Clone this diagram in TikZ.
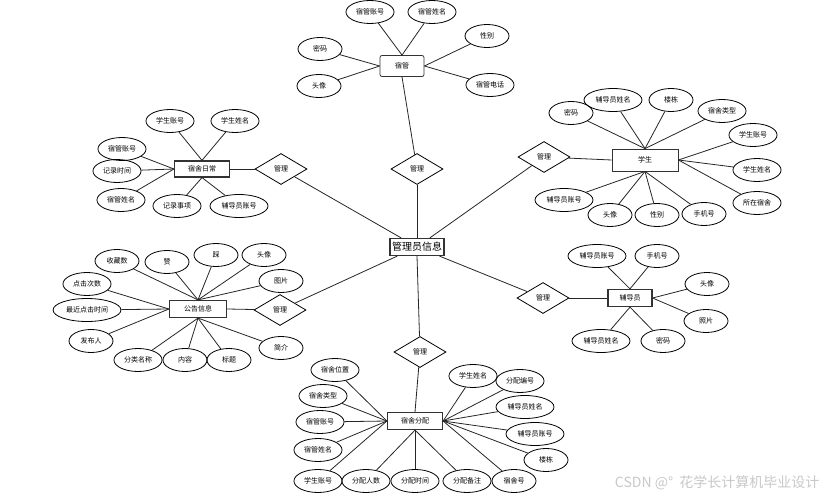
\documentclass[tikz,border=0pt]{standalone}
\usepackage{fontspec}
\setmainfont{Noto Sans CJK SC}
\usetikzlibrary{shapes.geometric}
\definecolor{markgray}{RGB}{200,200,200}

\begin{document}
\begin{tikzpicture}[
    x=1pt, y=-1pt,
    attr/.style={ellipse, draw, line width=0.8pt, inner xsep=3pt, inner ysep=1pt, minimum width=44pt, minimum height=23pt, font=\fontsize{7}{8}\selectfont},
    entity/.style={rectangle, draw=black!80, line width=1.2pt, minimum width=#1, minimum height=17pt, inner sep=1pt, font=\fontsize{7}{8}\selectfont},
    entity/.default=44pt,
    rel/.style={diamond, draw, line width=0.8pt, aspect=1.65, minimum width=52pt, minimum height=31pt, inner sep=0pt, font=\fontsize{7}{8}\selectfont},
    link/.style={line width=0.8pt, draw=black!85},
]
\useasboundingbox (0,0) rectangle (835,500);

% Center
\node[entity=54pt, font=\fontsize{10}{12}\selectfont] (admin) at (417,247) {管理员信息};

% Relationships
\node[rel] (rel_sg) at (417,169) {管理};
\node[rel] (rel_xs) at (544,157) {管理};
\node[rel] (rel_rc) at (281,169) {管理};
\node[rel] (rel_gg) at (280,310) {管理};
\node[rel] (rel_fd) at (543,298) {管理};
\node[rel] (rel_fp) at (420,352) {管理};

% Entities
\node[entity, line width=0.8pt, minimum height=21pt, rounded corners=2pt] (sg) at (402,66) {宿管};
\node[entity=66pt, line width=0.8pt, minimum height=22pt] (xs) at (645,160) {学生};
\node[entity=55pt, minimum height=16pt] (rc) at (202,169) {宿舍日常};
\node[entity=57pt] (gg) at (198,309) {公告信息};
\node[entity] (fd) at (630,298) {辅导员};
\node[entity=55pt] (fp) at (415,421) {宿舍分配};

% Attributes of sg
\node[attr] (sg_zh) at (370,12) {宿管账号};
\node[attr] (sg_xm) at (432,12) {宿管姓名};
\node[attr] (sg_xb) at (487,36) {性别};
\node[attr] (sg_mm) at (320,49) {密码};
\node[attr] (sg_tx) at (319,86) {头像};
\node[attr] (sg_dh) at (490,85) {宿管电话};

% Attributes of xs
\node[attr] (xs_mm) at (571,113) {密码};
\node[attr] (xs_fdxm) at (613,100) {辅导员姓名};
\node[attr] (xs_ld) at (671,100) {楼栋};
\node[attr] (xs_sslx) at (722,111) {宿舍类型};
\node[attr] (xs_zh) at (753,135) {学生账号};
\node[attr] (xs_xm) at (757,170) {学生姓名};
\node[attr] (xs_ss) at (757,203) {所在宿舍};
\node[attr] (xs_fdzh) at (564,200) {辅导员账号};
\node[attr] (xs_tx) at (610,215) {头像};
\node[attr] (xs_xb) at (657,215) {性别};
\node[attr] (xs_sj) at (704,214) {手机号};

% Attributes of rc
\node[attr] (rc_xszh) at (170,121) {学生账号};
\node[attr] (rc_xsxm) at (235,121) {学生姓名};
\node[attr] (rc_sgzh) at (122,149) {宿管账号};
\node[attr] (rc_sj) at (117,171) {记录时间};
\node[attr] (rc_sgxm) at (121,200) {宿管姓名};
\node[attr] (rc_sx) at (177,206) {记录事项};
\node[attr] (rc_fdzh) at (239,206) {辅导员账号};

% Attributes of gg
\node[attr] (gg_sc) at (117,261) {收藏数};
\node[attr] (gg_z) at (167,262) {赞};
\node[attr] (gg_c) at (216,255) {踩};
\node[attr] (gg_tx) at (264,255) {头像};
\node[attr] (gg_tp) at (281,281) {图片};
\node[attr] (gg_cs) at (87,284) {点击次数};
\node[attr] (gg_zj) at (87,310) {最近点击时间};
\node[attr] (gg_fb) at (91,341) {发布人};
\node[attr] (gg_fl) at (138,360) {分类名称};
\node[attr] (gg_nr) at (185,360) {内容};
\node[attr] (gg_bt) at (229,360) {标题};
\node[attr] (gg_jj) at (281,348) {简介};

% Attributes of fd
\node[attr] (fd_zh) at (597,256) {辅导员账号};
\node[attr] (fd_sj) at (657,256) {手机号};
\node[attr] (fd_tx) at (707,284) {头像};
\node[attr] (fd_zp) at (706,321) {照片};
\node[attr] (fd_xm) at (601,341) {辅导员姓名};
\node[attr] (fd_mm) at (663,341) {密码};

% Attributes of fp
\node[attr] (fp_wz) at (335,370) {宿舍位置};
\node[attr] (fp_lx) at (323,396) {宿舍类型};
\node[attr] (fp_sgzh) at (320,422) {宿管账号};
\node[attr] (fp_sgxm) at (318,450) {宿管姓名};
\node[attr] (fp_xszh) at (318,481) {学生账号};
\node[attr] (fp_rs) at (366,481) {分配人数};
\node[attr] (fp_sj) at (415,481) {分配时间};
\node[attr] (fp_bz) at (467,481) {分配备注};
\node[attr] (fp_ssh) at (514,481) {宿舍号};
\node[attr] (fp_xsxm) at (473,376) {学生姓名};
\node[attr] (fp_bh) at (520,381) {分配编号};
\node[attr] (fp_fdxm) at (525,407) {辅导员姓名};
\node[attr] (fp_fdzh) at (535,434) {辅导员账号};
\node[attr] (fp_ld) at (546,460) {楼栋};

% Watermark
\node[text=markgray, font=\fontsize{14}{16}\selectfont, anchor=east] (mark) at (823,483) {CSDN @°\ \ 花学长计算机毕业设计};

% Center links
\draw[link] (admin.north) -- (rel_sg);
\draw[link] (admin) -- (rel_xs);
\draw[link] (admin) -- (rel_rc);
\draw[link] (admin) -- (rel_gg);
\draw[link] (admin) -- (rel_fd);
\draw[link] (admin.south) -- (rel_fp);

% Relationship links
\draw[link] (rel_sg) -- (sg.south);
\draw[link] (rel_xs) -- (xs.west);
\draw[link] (rel_rc) -- (rc.east);
\draw[link] (rel_gg) -- (gg.east);
\draw[link] (rel_fd) -- (fd.west);
\draw[link] (rel_fp) -- (fp.north);

% Attribute links
\foreach \a in {sg_zh,sg_xm} \draw[link] (sg.north) -- (\a);
\foreach \a in {sg_mm,sg_tx} \draw[link] (sg.west) -- (\a);
\foreach \a in {sg_xb,sg_dh} \draw[link] (sg.east) -- (\a);

\foreach \a in {xs_mm,xs_fdxm,xs_ld,xs_sslx} \draw[link] (xs.north) -- (\a);
\foreach \a in {xs_zh,xs_xm,xs_ss} \draw[link] (xs.east) -- (\a);
\foreach \a in {xs_fdzh,xs_tx,xs_xb,xs_sj} \draw[link] (xs.south) -- (\a);

\foreach \a in {rc_xszh,rc_xsxm} \draw[link] (rc.north) -- (\a);
\foreach \a in {rc_sgzh,rc_sj,rc_sgxm} \draw[link] (rc.west) -- (\a);
\foreach \a in {rc_sx,rc_fdzh} \draw[link] (rc.south) -- (\a);

\foreach \a in {gg_sc,gg_z,gg_c,gg_tx,gg_tp} \draw[link] (gg.north) -- (\a);
\foreach \a in {gg_cs,gg_zj,gg_fb} \draw[link] (gg.west) -- (\a);
\foreach \a in {gg_fl,gg_nr,gg_bt,gg_jj} \draw[link] (gg.south) -- (\a);

\foreach \a in {fd_zh,fd_sj} \draw[link] (fd.north) -- (\a);
\foreach \a in {fd_tx,fd_zp} \draw[link] (fd.east) -- (\a);
\foreach \a in {fd_xm,fd_mm} \draw[link] (fd.south) -- (\a);

\foreach \a in {fp_wz,fp_lx,fp_sgzh,fp_sgxm,fp_xszh} \draw[link] (fp.west) -- (\a);
\foreach \a in {fp_rs,fp_sj,fp_bz} \draw[link] (fp.south) -- (\a);
\foreach \a in {fp_ssh,fp_xsxm,fp_bh,fp_fdxm,fp_fdzh,fp_ld} \draw[link] (fp.east) -- (\a);

\end{tikzpicture}
\end{document}
